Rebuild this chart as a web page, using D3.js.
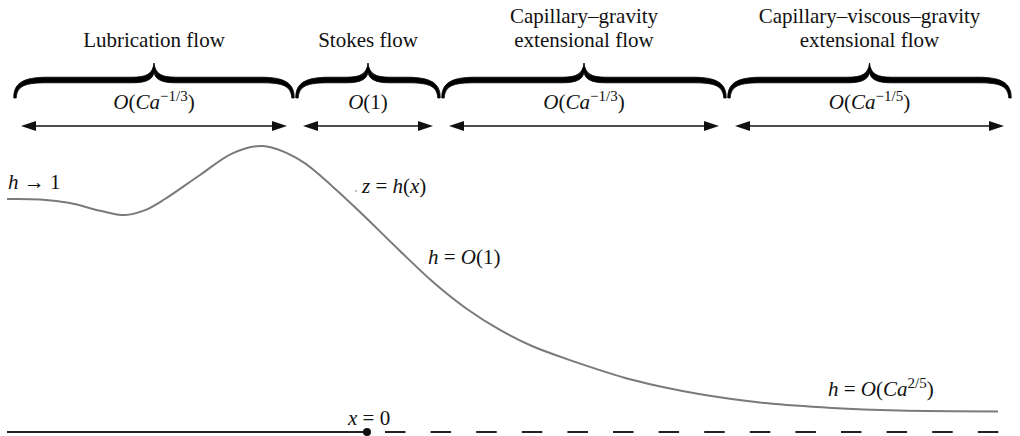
<!DOCTYPE html>
<html>
<head>
<meta charset="utf-8">
<script src="https://cdn.jsdelivr.net/npm/d3@7"></script>
<style>
  html, body { margin: 0; padding: 0; background: #fff; }
  svg { display: block; }
  text { font-family: "Liberation Serif", "Times New Roman", serif; fill: #111; }
</style>
</head>
<body>
<svg id="chart" width="1020" height="436"></svg>
<script>
// Film profile z = h(x): streamwise position x (x = 0 at the contact point) and thickness h
const profileX = [-3.60, -3.27, -2.97, -2.67, -2.42, -2.22, -2.02, -1.67, -1.34, -1.04, -0.67, -0.34, -0.07, 0.33, 0.66, 1.00, 1.33, 1.65, 2.00, 2.66, 3.32, 3.99, 4.65, 5.32, 6.31];
const profileH = [1.000, 0.998, 0.983, 0.950, 0.931, 0.952, 1.000, 1.103, 1.197, 1.227, 1.167, 1.052, 0.944, 0.777, 0.644, 0.528, 0.438, 0.369, 0.313, 0.223, 0.163, 0.124, 0.103, 0.092, 0.088];

// Flow regions along x and their scalings
const regionBounds = [-3.54, -0.72, 0.74, 3.60, 6.45];
const regionNames = [
  ["Lubrication flow"],
  ["Stokes flow"],
  ["Capillary–gravity", "extensional flow"],
  ["Capillary–viscous–gravity", "extensional flow"]
];
const regionScaling = [
  { base: "Ca", exp: "−1/3" },
  { base: null, exp: null },
  { base: "Ca", exp: "−1/3" },
  { base: "Ca", exp: "−1/5" }
];

const svg = d3.select("#chart");
const x = d3.scaleLinear().domain([-3.6, 6.31]).range([7, 998]);
const y = d3.scaleLinear().domain([0, 1]).range([432, 199]);

// Layout of the header band
const braceEndY = 98, braceBarY = 80, braceTipY = 63;
const arrowY = 126, arrowInset = 8, headLen = 15, headHalf = 5;

const regions = d3.range(regionNames.length).map(i => ({
  x0: x(regionBounds[i]),
  x1: x(regionBounds[i + 1]),
  names: regionNames[i],
  scaling: regionScaling[i]
}));

// Curly brace as a filled outline: thick along the bars, tapering at the ends and tip
function bracePath(x0, x1) {
  const xm = (x0 + x1) / 2;
  const w = 2.8;               // half thickness of the bars
  const top = braceBarY - w, bot = braceBarY + w;
  const p = d3.path();
  // outer (upper) edge, left to right
  p.moveTo(x0 - 1.2, braceEndY);
  p.bezierCurveTo(x0 - 1.5, top + 6, x0 + 8, top, x0 + 32, top);
  p.lineTo(xm - 22, top);
  p.bezierCurveTo(xm - 8, top, xm - 1.2, top - 3, xm, braceTipY);
  p.bezierCurveTo(xm + 1.2, top - 3, xm + 8, top, xm + 22, top);
  p.lineTo(x1 - 32, top);
  p.bezierCurveTo(x1 - 8, top, x1 + 1.5, top + 6, x1 + 1.2, braceEndY);
  // inner (lower) edge, right to left
  p.lineTo(x1 - 1.2, braceEndY);
  p.bezierCurveTo(x1 - 2, bot + 3, x1 - 10, bot, x1 - 32, bot);
  p.lineTo(xm + 22, bot);
  p.bezierCurveTo(xm + 8, bot, xm + 1, bot - 3, xm, braceTipY + 9);
  p.bezierCurveTo(xm - 1, bot - 3, xm - 8, bot, xm - 22, bot);
  p.lineTo(x0 + 32, bot);
  p.bezierCurveTo(x0 + 10, bot, x0 + 2, bot + 3, x0 + 1.2, braceEndY);
  p.closePath();
  return p.toString();
}

svg.append("g").selectAll("path")
  .data(regions)
  .join("path")
  .attr("d", d => bracePath(d.x0 + 2, d.x1 - 2))
  .attr("fill", "#000")
  .attr("stroke", "#000")
  .attr("stroke-width", 0.8)
  .attr("stroke-linejoin", "round");

// Region titles
const titles = svg.append("g").selectAll("text")
  .data(regions)
  .join("text")
  .attr("text-anchor", "middle")
  .attr("font-size", 21);
titles.each(function(d) {
  const t = d3.select(this);
  const n = d.names.length;
  d.names.forEach((line, j) => {
    t.append("tspan")
      .attr("x", (d.x0 + d.x1) / 2)
      .attr("y", 47 - (n - 1 - j) * 24)
      .text(line);
  });
});

// Scaling labels under each brace
const scal = svg.append("g").selectAll("text")
  .data(regions)
  .join("text")
  .attr("text-anchor", "middle")
  .attr("x", d => (d.x0 + d.x1) / 2)
  .attr("y", 109)
  .attr("font-size", 21);
scal.each(function(d) {
  const t = d3.select(this);
  t.append("tspan").attr("font-style", "italic").text("O");
  if (d.scaling.base) {
    t.append("tspan").text("(");
    t.append("tspan").attr("font-style", "italic").text(d.scaling.base);
    t.append("tspan").attr("font-size", 15).attr("dy", -8).text(d.scaling.exp);
    t.append("tspan").attr("dy", 8).text(")");
  } else {
    t.append("tspan").text("(1)");
  }
});

// Double-headed extent arrows
const arrows = svg.append("g");
regions.forEach(d => {
  const a = d.x0 + arrowInset, b = d.x1 - arrowInset;
  arrows.append("line")
    .attr("x1", a + headLen - 2).attr("x2", b - headLen + 2)
    .attr("y1", arrowY).attr("y2", arrowY)
    .attr("stroke", "#111").attr("stroke-width", 1.6);
  arrows.append("path")
    .attr("d", `M${a},${arrowY}L${a + headLen},${arrowY - headHalf}L${a + headLen},${arrowY + headHalf}Z`)
    .attr("fill", "#111");
  arrows.append("path")
    .attr("d", `M${b},${arrowY}L${b - headLen},${arrowY - headHalf}L${b - headLen},${arrowY + headHalf}Z`)
    .attr("fill", "#111");
});

// Film surface z = h(x)
const line = d3.line()
  .x((d, i) => x(profileX[i]))
  .y(d => y(d))
  .curve(d3.curveCatmullRom.alpha(0.5));
svg.append("path")
  .datum(profileH)
  .attr("d", line)
  .attr("fill", "none")
  .attr("stroke", "#7a7a7a")
  .attr("stroke-width", 2);

// Wall: solid for x < 0, dashed for x > 0
svg.append("line")
  .attr("x1", x(-3.6)).attr("x2", x(0))
  .attr("y1", y(0)).attr("y2", y(0))
  .attr("stroke", "#222").attr("stroke-width", 2.2);
svg.append("line")
  .attr("x1", x(0) + 18).attr("x2", x(6.31) + 1)
  .attr("y1", y(0)).attr("y2", y(0))
  .attr("stroke", "#222").attr("stroke-width", 2.2)
  .attr("stroke-dasharray", "20.5,25.1");
svg.append("circle")
  .attr("cx", x(0)).attr("cy", y(0)).attr("r", 4)
  .attr("fill", "#111");

// Annotations
function mathLabel(px, py, parts) {
  const t = svg.append("text").attr("x", px).attr("y", py).attr("font-size", 21);
  parts.forEach(p => {
    const s = t.append("tspan").text(p.t);
    if (p.i) s.attr("font-style", "italic");
    if (p.sup) s.attr("font-size", 15).attr("dy", -8);
    if (p.down) s.attr("dy", 8);
  });
  return t;
}
mathLabel(8, 189, [{ t: "h", i: true }, { t: " → 1" }]);
svg.append("circle").attr("cx", 356).attr("cy", 191).attr("r", 1).attr("fill", "#aaa");
mathLabel(362, 193, [{ t: "z", i: true }, { t: " = " }, { t: "h", i: true }, { t: "(" }, { t: "x", i: true }, { t: ")" }]);
mathLabel(428, 264, [{ t: "h", i: true }, { t: " = " }, { t: "O", i: true }, { t: "(1)" }]);
mathLabel(828, 396, [{ t: "h", i: true }, { t: " = " }, { t: "O", i: true }, { t: "(" }, { t: "Ca", i: true }, { t: "2/5", sup: true }, { t: ")", down: true }]);
mathLabel(348, 425, [{ t: "x", i: true }, { t: " = 0" }]);
</script>
</body>
</html>
